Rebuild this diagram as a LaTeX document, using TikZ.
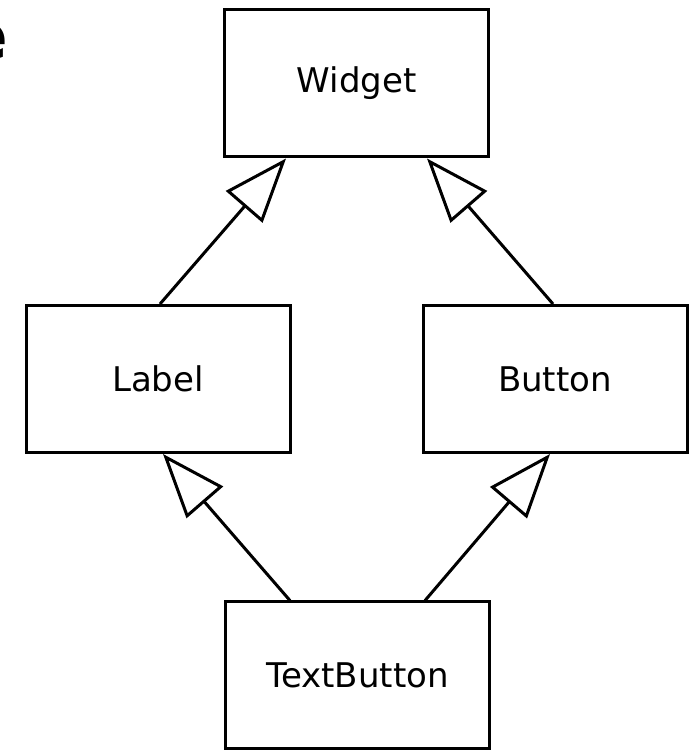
\documentclass[tikz,border=0pt]{standalone}
\usepackage{fontspec}
\setmainfont{DejaVu Sans}
\usetikzlibrary{arrows.meta,calc}

\tikzset{
  classbox/.style={draw=black, line width=3pt, fill=white,
    minimum width=264pt, minimum height=147pt, inner sep=0pt,
    font=\fontsize{34}{40}\selectfont},
  inherit/.style={draw=black, line width=3pt,
    -{Triangle[length=64pt, width=48pt, fill=white, line join=miter]}}
}

\begin{document}
\begin{tikzpicture}[x=1pt, y=1pt]
  \useasboundingbox (0,0) rectangle (690,751);

  % trailing letter of a heading that runs off the left edge
  \node[anchor=east, inner sep=0pt, font=\fontsize{66}{70}\selectfont\bfseries]
    (headtail) at (8,710) {e};

  % class boxes
  \node[classbox] (widget) at (356.5,667.5) {Widget};
  \node[classbox] (label)  at (158,372)    {Label};
  \node[classbox] (button) at (555,372)    {Button};
  \node[classbox] (textbutton) at (357.5,75.5) {TextButton};

  % inheritance arrows
  \draw[inherit] ($(label.north)+(2,0)$)
    -- ($(widget.south west)!0.236!(widget.south east)$);
  \draw[inherit] ($(button.north)+(-2,0)$)
    -- ($(widget.south west)!0.764!(widget.south east)$);
  \draw[inherit] ($(textbutton.north west)!0.247!(textbutton.north east)$)
    -- ($(label.south)+(5,0)$);
  \draw[inherit] ($(textbutton.north west)!0.753!(textbutton.north east)$)
    -- ($(button.south)+(-5,0)$);
\end{tikzpicture}
\end{document}
